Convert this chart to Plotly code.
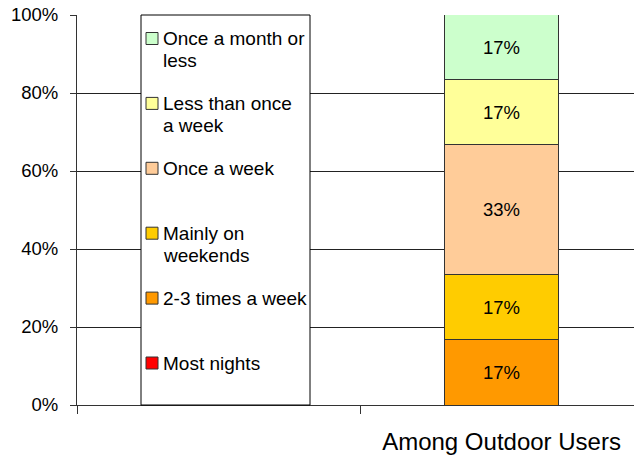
import plotly.graph_objects as go

categories = [" ", "Among Outdoor Users"]
frequencies = [
    "Most nights",
    "2-3 times a week",
    "Mainly on weekends",
    "Once a week",
    "Less than once a week",
    "Once a month or less",
]
legend_lines = [
    ["Most nights"],
    ["2-3 times a week"],
    ["Mainly on", "weekends"],
    ["Once a week"],
    ["Less than once", "a week"],
    ["Once a month or", "less"],
]
shares = [0, 16.67, 16.67, 33.33, 16.67, 16.67]  # % of outdoor users
colors = ["#FF0000", "#FF9900", "#FFCC00", "#FFCC99", "#FFFF99", "#CCFFCC"]
y_ticks = [0, 20, 40, 60, 80, 100]

FONT = "Liberation Sans, Arial, sans-serif"
W, H = 634, 455
L, T, B = 77, 15, 50
PW, PH = W - L, H - T - B


def px_x(x):
    return (x - L) / PW


def px_y(y):
    return 1 - (y - T) / PH


fig = go.Figure()
for name, share, color in zip(frequencies, shares, colors):
    fig.add_trace(
        go.Bar(
            x=[categories[1]],
            y=[share],
            name=name,
            width=0.4,
            marker=dict(color=color, line=dict(color="#333333", width=1)),
            text=[f"{share:.0f}%" if share else ""],
            textposition="inside",
            insidetextanchor="middle",
            textangle=0,
            textfont=dict(family=FONT, size=18.5, color="black"),
            showlegend=False,
        )
    )

# legend box drawn over the empty first category, like the original
shapes = [
    dict(
        type="rect", xref="paper", yref="paper",
        x0=px_x(141), x1=px_x(310), y0=0, y1=1,
        fillcolor="white", line=dict(color="black", width=1), layer="above",
    )
]
annotations = []
for i, idx in enumerate(reversed(range(len(frequencies)))):
    cy = 38.5 + 64.9 * i
    shapes.append(
        dict(
            type="rect", xref="paper", yref="paper",
            x0=px_x(146), x1=px_x(158), y0=px_y(cy + 6), y1=px_y(cy - 6),
            fillcolor=colors[idx], line=dict(color="#333333", width=1), layer="above",
        )
    )
    for j, line in enumerate(legend_lines[idx]):
        annotations.append(
            dict(
                text=line, xref="paper", yref="paper",
                x=px_x(161), y=px_y(cy + 22 * j),
                xanchor="left", yanchor="middle", showarrow=False,
                font=dict(family=FONT, size=19, color="black"),
            )
        )

fig.update_layout(
    barmode="stack",
    width=W,
    height=H,
    margin=dict(l=L, r=0, t=T, b=B, autoexpand=False),
    plot_bgcolor="white",
    paper_bgcolor="white",
    font=dict(family=FONT, size=18.5, color="black"),
    shapes=shapes,
    annotations=annotations,
)
fig.update_xaxes(
    type="category",
    categoryorder="array",
    categoryarray=categories,
    range=[-0.5, 1.468],
    tickson="boundaries",
    ticks="outside",
    ticklen=8,
    tickcolor="#333333",
    ticklabelstandoff=15,
    showline=True,
    linecolor="#333333",
    showgrid=False,
    automargin=False,
    tickfont=dict(family=FONT, size=24, color="black"),
)
fig.update_yaxes(
    range=[0, 100],
    tickvals=y_ticks,
    ticktext=[f"{v}%" for v in y_ticks],
    ticks="outside",
    ticklen=6,
    tickcolor="#333333",
    ticklabelstandoff=8,
    showline=True,
    linecolor="#333333",
    showgrid=True,
    gridcolor="#222222",
    gridwidth=1,
    zeroline=False,
    automargin=False,
)

# the page's default 8px body margin would shift the whole chart
fig.write_html(
    "out.html",
    config={"displayModeBar": False},
    post_script="document.body.style.margin = '0';",
)
